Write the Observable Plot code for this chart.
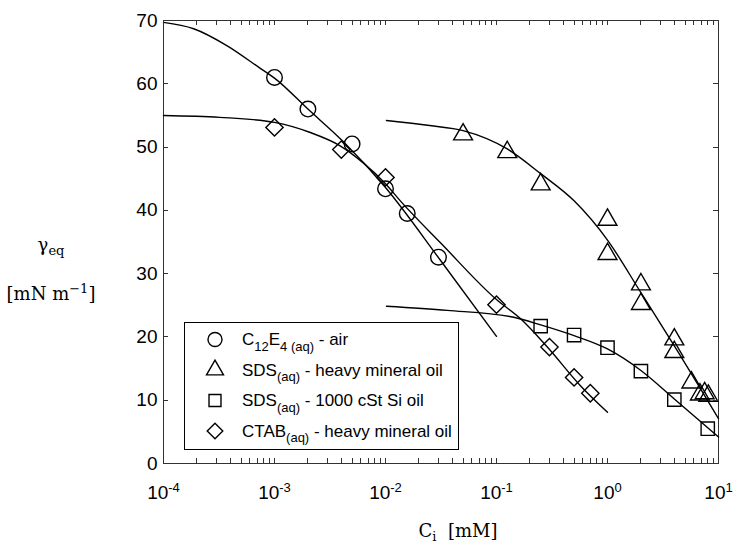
<!DOCTYPE html>
<html><head><meta charset="utf-8">
<script src="https://cdn.jsdelivr.net/npm/d3@7"></script>
<script src="https://cdn.jsdelivr.net/npm/@observablehq/plot@0.6"></script>
<style>body{margin:0;background:#fff}</style>
</head><body><div id="chart"></div>
<script>
// ---- data (C in mM, gamma in mN/m) ----
const circleC = [0.001, 0.002, 0.005, 0.01, 0.0157, 0.03];
const circleG = [61.0, 56.0, 50.5, 43.4, 39.5, 32.6];
const circleFitC = [1e-4, 1.87e-4, 3.75e-4, 7.5e-4, 1e-3, 2e-3, 4.2e-3, 1e-2, 3.16e-2, 0.1];
const circleFitG = [69.7, 68.7, 66.0, 62.4, 60.9, 56.0, 50.8, 43.6, 32.0, 20.1];

const triC = [0.05, 0.125, 0.25, 1, 1, 2, 2, 4, 4, 5.7, 6.8, 7.5, 8.1];
const triG = [52.0, 49.2, 44.1, 38.5, 33.1, 28.3, 25.2, 19.6, 17.6, 12.8, 10.9, 11.1, 10.7];
const triFitC = [0.0102, 0.025, 0.05, 0.125, 0.25, 0.5, 1, 2, 4, 10];
const triFitG = [54.2, 53.4, 52.6, 49.7, 45.8, 41.5, 35.3, 27.0, 18.6, 7.1];

const sqC = [0.25, 0.5, 1, 2, 4, 8];
const sqG = [21.7, 20.3, 18.3, 14.6, 10.1, 5.5];
const sqFitC = [0.0102, 0.036, 0.143, 0.25, 0.5, 1, 2, 4, 10];
const sqFitG = [24.85, 24.2, 23.1, 21.9, 20.2, 18.1, 14.7, 10.2, 4.2];

const diaC = [0.001, 0.004, 0.01, 0.1, 0.3, 0.5, 0.7];
const diaG = [53.1, 49.6, 45.2, 25.1, 18.4, 13.6, 11.1];
const diaFitC = [1e-4, 3.2e-4, 1e-3, 2.1e-3, 3.9e-3, 6.3e-3, 1e-2, 1.36e-2, 3.16e-2, 0.1, 0.164, 0.287, 0.57, 1.0];
const diaFitG = [55.0, 54.7, 53.9, 52.3, 50.2, 47.5, 44.2, 41.5, 34.8, 25.9, 22.9, 18.4, 12.3, 8.1];

const legendLabels = [
  "C_{12}E_{4 (aq)} - air",
  "SDS_{(aq)} - heavy mineral oil",
  "SDS_{(aq)} - 1000 cSt Si oil",
  "CTAB_{(aq)} - heavy mineral oil"
];
const symbols = ["circle", "triangle", "square", "diamond2"];
const symbolR = [7.8, 7.0, 7.5, 7.8];

const yTicks = [0, 10, 20, 30, 40, 50, 60, 70];
const xExponents = [-4, -3, -2, -1, 0, 1];
const xMinorMult = [2, 3, 4, 5, 6, 7, 8, 9];

const yTitle1 = "γ_{eq}";
const yTitle2 = "[mN m^{−1}]";
const xTitle = "C_{i}\u00a0\u00a0[mM]";

// ---- build tables ----
const zip = (xs, ys) => xs.map((x, i) => ({x, y: ys[i]}));
const series = [
  {pts: zip(circleC, circleG), fit: zip(circleFitC, circleFitG)},
  {pts: zip(triC, triG), fit: zip(triFitC, triFitG)},
  {pts: zip(sqC, sqG), fit: zip(sqFitC, sqFitG)},
  {pts: zip(diaC, diaG), fit: zip(diaFitC, diaFitG)}
];
const xMajor = xExponents.map(e => 10 ** e);
const xAll = xMajor.concat(xExponents.slice(0, -1).flatMap(e => xMinorMult.map(m => m * 10 ** e)));

const frameColor = "#333";
const marks = [
  Plot.axisY(yTicks, {anchor: "left", tickSize: 0, tickPadding: 6, label: null}),
  Plot.axisX(xMajor, {anchor: "bottom", tickSize: 0, tickPadding: 22, label: null,
    tickFormat: d => String(Math.round(Math.log10(d)))}),
  Plot.frame({stroke: frameColor, strokeWidth: 1})
];
series.forEach((s, i) => {
  marks.push(Plot.line(s.fit, {x: "x", y: "y", curve: "monotone-x", stroke: "black", strokeWidth: 1.4}));
  marks.push(Plot.dot(s.pts, {x: "x", y: "y", symbol: symbols[i], r: symbolR[i], stroke: "black", strokeWidth: 1.4, fill: "none"}));
});

const plot = Plot.plot({
  width: 733, height: 547,
  marginLeft: 163, marginRight: 15, marginTop: 20, marginBottom: 84,
  style: {fontFamily: "'Liberation Sans', Arial, sans-serif", fontSize: "19px", color: "black", background: "white"},
  x: {type: "log", domain: [1e-4, 10]},
  y: {domain: [0, 70]},
  marks
});
document.getElementById("chart").appendChild(plot);

const svg = d3.select(plot);
// inward ticks on all four sides, positioned with the plot's own scales
const sx = plot.scale("x"), sy = plot.scale("y");
const [xl, xr] = sx.range, [yb, yt] = sy.range;
const tk = 5;
const tg = svg.append("g").attr("stroke", frameColor).attr("stroke-width", 1).attr("fill", "none");
xAll.forEach(v => {
  const px = Math.round(sx.apply(v)) + 0.5;
  tg.append("line").attr("x1", px).attr("x2", px).attr("y1", yb).attr("y2", yb - tk);
  tg.append("line").attr("x1", px).attr("x2", px).attr("y1", yt).attr("y2", yt + tk);
});
yTicks.forEach(v => {
  const py = Math.round(sy.apply(v)) + 0.5;
  tg.append("line").attr("x1", xl).attr("x2", xl + tk).attr("y1", py).attr("y2", py);
  tg.append("line").attr("x1", xr).attr("x2", xr - tk).attr("y1", py).attr("y2", py);
});

// superscript x tick labels
svg.selectAll('g[aria-label="x-axis tick label"] text').each(function () {
  const t = d3.select(this);
  const e = t.text();
  if (!e) return;
  t.text(null);
  t.append("tspan").text("10");
  t.append("tspan").attr("dy", "-0.55em").attr("font-size", "13px").text(e);
});

// rich text helper: _{sub} ^{sup}
function rich(sel, str, subSize, shiftSub, shiftSup) {
  const parts = str.match(/(_\{[^}]*\}|\^\{[^}]*\}|[^_^]+)/g);
  let off = 0;
  parts.forEach(p => {
    let target = 0, txt = p, size = null;
    if (p.startsWith("_{")) { target = shiftSub; txt = p.slice(2, -1); size = subSize; }
    else if (p.startsWith("^{")) { target = -shiftSup; txt = p.slice(2, -1); size = subSize; }
    const ts = sel.append("tspan").text(txt);
    if (target !== off) ts.attr("dy", target - off);
    if (size) ts.attr("font-size", size);
    off = target;
  });
}

const serif = "'DejaVu Serif', 'Liberation Serif', serif";
const t1 = svg.append("text").attr("x", 51).attr("y", 251).attr("text-anchor", "middle")
  .attr("font-family", serif).attr("font-size", 18);
rich(t1, yTitle1, 13, 4, 7);
const t2 = svg.append("text").attr("x", 51).attr("y", 300).attr("text-anchor", "middle")
  .attr("font-family", serif).attr("font-size", 18);
rich(t2, yTitle2, 13, 4, 7);
const t3 = svg.append("text").attr("x", 458).attr("y", 537).attr("text-anchor", "middle")
  .attr("font-family", serif).attr("font-size", 18).style("white-space", "pre");
rich(t3, xTitle, 13, 4, 7);

// legend
const lg = svg.append("g");
lg.append("rect").attr("x", 184.5).attr("y", 322.5).attr("width", 274).attr("height", 127)
  .attr("fill", "white").attr("stroke", "black").attr("stroke-width", 1);
const rowY = [339.5, 370, 400.5, 431];
const d3sym = {circle: d3.symbolCircle, triangle: d3.symbolTriangle, square: d3.symbolSquare, diamond2: d3.symbolDiamond2};
legendLabels.forEach((lab, i) => {
  lg.append("path")
    .attr("transform", `translate(215,${rowY[i]})`)
    .attr("d", d3.symbol(d3sym[symbols[i]], Math.PI * (symbolR[i] * 0.9) ** 2)())
    .attr("fill", "none").attr("stroke", "black").attr("stroke-width", 1.4);
  const tx = lg.append("text").attr("x", 242).attr("y", rowY[i] + 5.5)
    .attr("text-anchor", "start").attr("font-size", 17).style("white-space", "pre");
  rich(tx, lab, 13, 5.5, 6);
});
</script>
</body></html>
